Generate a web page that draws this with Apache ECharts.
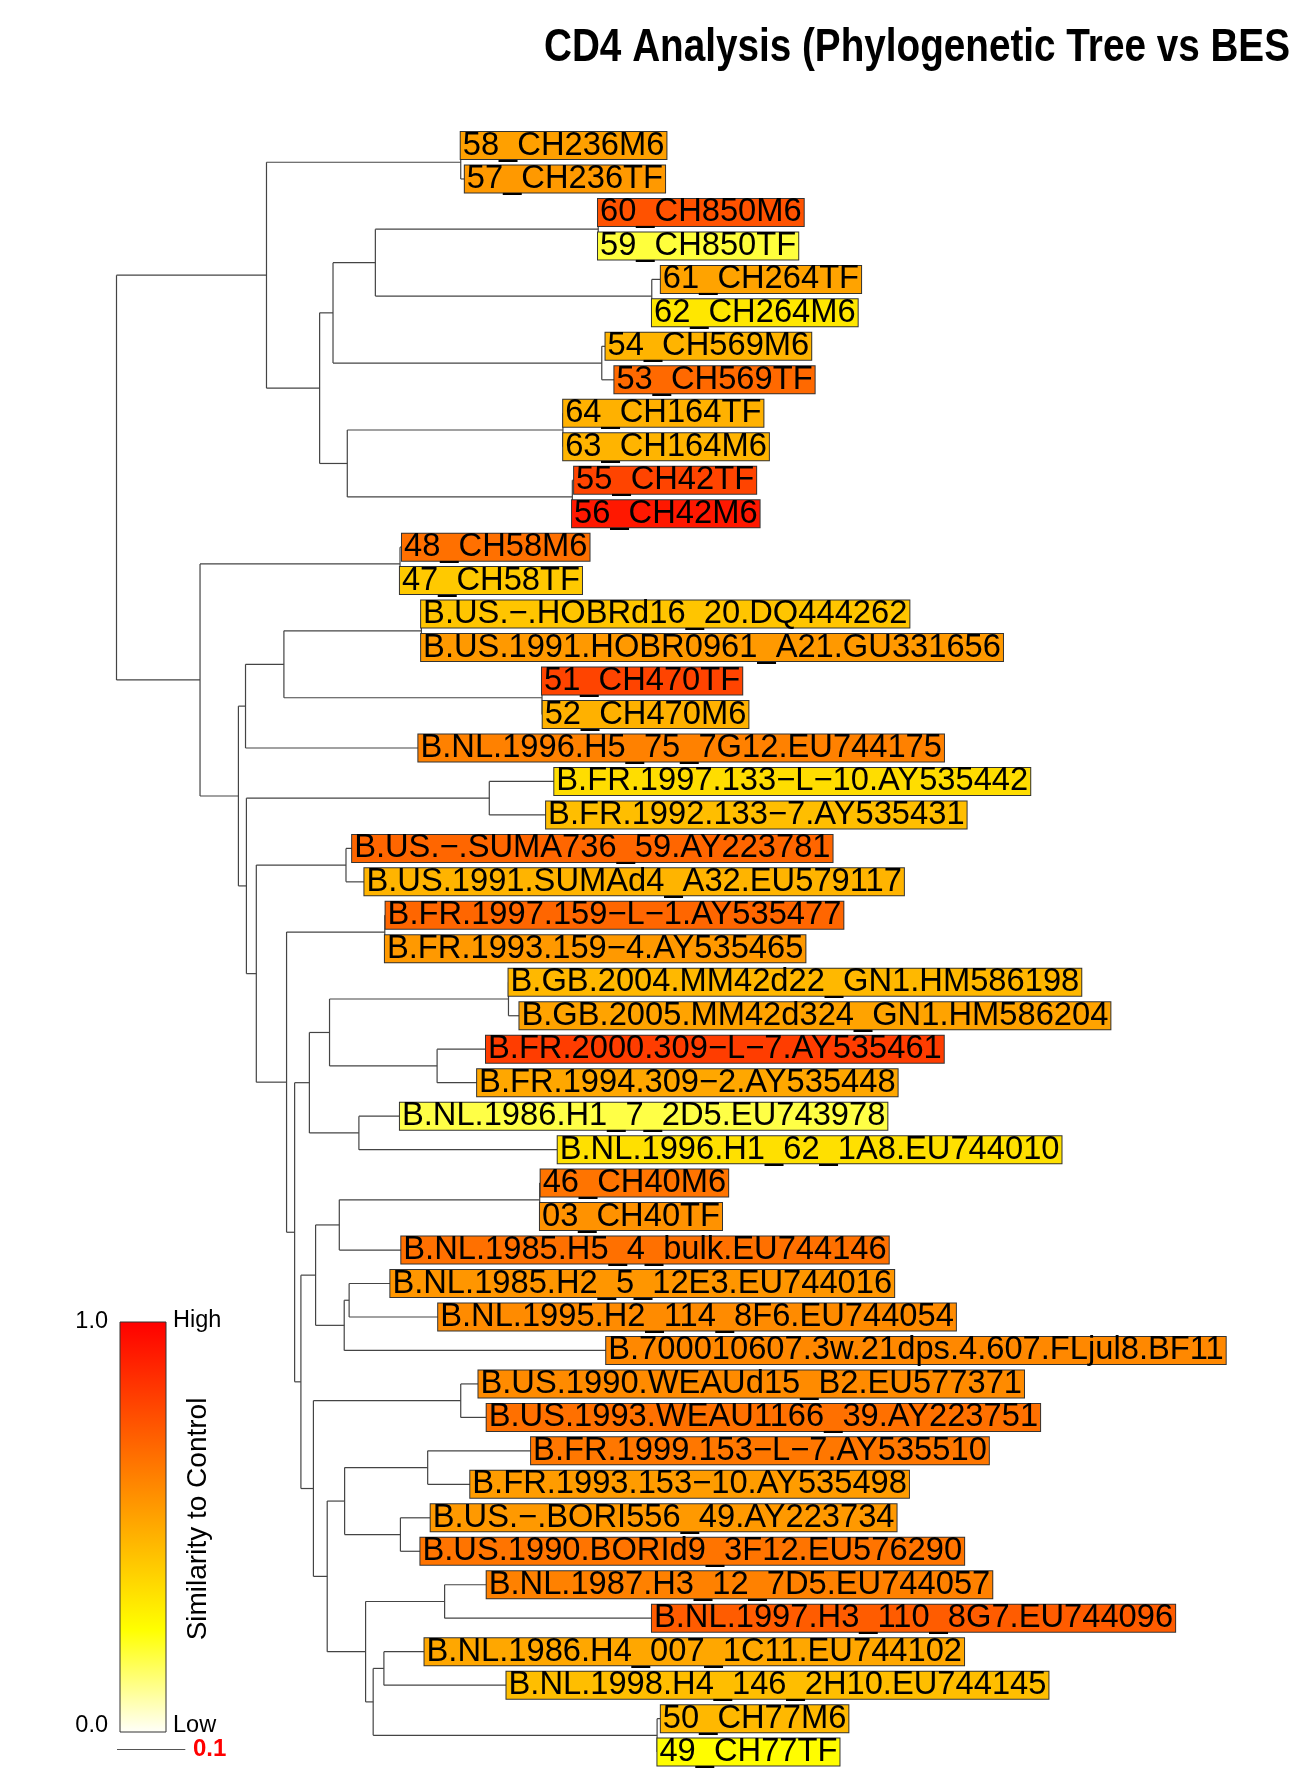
<!DOCTYPE html>
<html><head><meta charset="utf-8">
<script src="https://cdn.jsdelivr.net/npm/echarts@6/dist/echarts.min.js"></script>
<style>html,body{margin:0;padding:0;background:#fff;overflow:hidden}#c{width:1292px;height:1771px}</style>
</head><body><div id="c"></div>
<script>
const titleText = 'CD4 Analysis (Phylogenetic Tree vs BES';

// Leaves, top to bottom
const leafNames = [
 '58_CH236M6','57_CH236TF','60_CH850M6','59_CH850TF','61_CH264TF','62_CH264M6',
 '54_CH569M6','53_CH569TF','64_CH164TF','63_CH164M6','55_CH42TF','56_CH42M6',
 '48_CH58M6','47_CH58TF','B.US.−.HOBRd16_20.DQ444262','B.US.1991.HOBR0961_A21.GU331656',
 '51_CH470TF','52_CH470M6','B.NL.1996.H5_75_7G12.EU744175','B.FR.1997.133−L−10.AY535442',
 'B.FR.1992.133−7.AY535431','B.US.−.SUMA736_59.AY223781','B.US.1991.SUMAd4_A32.EU579117',
 'B.FR.1997.159−L−1.AY535477','B.FR.1993.159−4.AY535465','B.GB.2004.MM42d22_GN1.HM586198',
 'B.GB.2005.MM42d324_GN1.HM586204','B.FR.2000.309−L−7.AY535461','B.FR.1994.309−2.AY535448',
 'B.NL.1986.H1_7_2D5.EU743978','B.NL.1996.H1_62_1A8.EU744010','46_CH40M6','03_CH40TF',
 'B.NL.1985.H5_4_bulk.EU744146','B.NL.1985.H2_5_12E3.EU744016','B.NL.1995.H2_114_8F6.EU744054',
 'B.700010607.3w.21dps.4.607.FLjul8.BF11','B.US.1990.WEAUd15_B2.EU577371','B.US.1993.WEAU1166_39.AY223751',
 'B.FR.1999.153−L−7.AY535510','B.FR.1993.153−10.AY535498','B.US.−.BORI556_49.AY223734',
 'B.US.1990.BORId9_3F12.EU576290','B.NL.1987.H3_12_7D5.EU744057','B.NL.1997.H3_110_8G7.EU744096',
 'B.NL.1986.H4_007_1C11.EU744102','B.NL.1998.H4_146_2H10.EU744145','50_CH77M6','49_CH77TF'
];
const leafParents = [
 'n5857','n5857','n6059','n6059','n6162','n6162','n5453','n5453','n6463','n6463','n5556','n5556',
 'n4847','n4847','nHOBR','nHOBR','n5152','n5152','H','K','K','nSUMA','nSUMA','n159','n159',
 'nGB','nGB','n309','n309','Q','Q','n4603','n4603','T','V','V','U','nWEAU','nWEAU',
 'n153','n153','nBORI','nBORI','nH3','nH3','nH4','nH4','nCH77','nCH77'
];
const leafDepths = [
 0.504,0.510,0.705,0.705,0.797,0.784,0.716,0.729,0.654,0.654,0.670,0.667,
 0.418,0.415,0.446,0.446,0.623,0.624,0.442,0.641,0.629,0.345,0.363,0.394,0.393,
 0.574,0.590,0.541,0.528,0.415,0.646,0.621,0.620,0.417,0.401,0.471,0.717,0.530,0.542,
 0.607,0.518,0.460,0.445,0.542,0.784,0.451,0.571,0.797,0.792
];
const leafSimilarity = [
 0.53,0.55,0.76,0.19,0.52,0.32,0.47,0.69,0.48,0.47,0.80,0.93,
 0.67,0.41,0.42,0.55,0.80,0.48,0.62,0.35,0.44,0.70,0.47,0.70,0.55,
 0.46,0.52,0.82,0.51,0.18,0.34,0.66,0.57,0.67,0.56,0.59,0.60,0.59,0.67,
 0.65,0.54,0.55,0.66,0.62,0.73,0.51,0.44,0.46,0.255
];

// Internal nodes: id, parent, depth from root
const nodeIds     = ['ROOT','A','n5857','B','C','D','n6059','n6162','n5453','E','n6463','n5556',
 'F','n4847','G','H','I','nHOBR','n5152','J','K','L','nSUMA','M','n159','N','O','P','nGB','n309','Q',
 'R2','S','T','n4603','U','V','W','nWEAU','X','Y','n153','nBORI','Z','nH3','AA','nH4','nCH77'];
const nodeParents = [null,'ROOT','A','A','B','C','D','D','C','B','E','E',
 'ROOT','F','F','G','H','I','I','G','J','J','L','L','M','M','N','O','P','P','O',
 'N','R2','S','T','S','U','R2','W','W','X','Y','Y','X','Z','Z','AA','AA'];
const nodeDepths  = [0,0.2196,0.504,0.2974,0.317,0.379,0.7053,0.7837,0.7105,0.3379,0.6536,0.6674,
 0.1223,0.4151,0.1785,0.1889,0.2451,0.4464,0.623,0.1902,0.5458,0.2047,0.336,0.249,0.3928,0.2608,0.2824,0.3119,0.5739,0.4694,0.3549,
 0.270,0.2915,0.3262,0.6196,0.3334,0.3406,0.2883,0.504,0.3085,0.334,0.4556,0.4157,0.3647,0.4804,0.3758,0.3915,0.7915];

const colorStops = ['#FFFFFA','#FFFF00','#FFAA00','#FF5500','#FF0000'];
const legendTicks = ['1.0','0.0'];
const legendEnds = ['High','Low'];
const legendTitle = 'Similarity to Control';
const scaleBarValue = 0.1;

// ---- build tree geometry (in data units) ----
const depthOf = {}, children = {};
nodeIds.forEach((id,i)=>{depthOf[id]=nodeDepths[i]; children[id]=[];});
nodeIds.forEach((id,i)=>{ if(nodeParents[i]) children[nodeParents[i]].push({node:id}); });
leafParents.forEach((p,i)=>children[p].push({leaf:i}));
const yOf = {};
function nodeY(id){
  if (yOf[id]!==undefined) return yOf[id];
  const ys = children[id].map(c=> c.leaf!==undefined ? c.leaf : nodeY(c.node));
  yOf[id] = ys.reduce((a,b)=>a+b,0)/ys.length;
  return yOf[id];
}
nodeIds.forEach(nodeY);
const segs = [];
nodeIds.forEach((id,i)=>{
  const ys = children[id].map(c=> c.leaf!==undefined ? c.leaf : yOf[c.node]);
  segs.push([depthOf[id], Math.min(...ys), depthOf[id], Math.max(...ys)]);
  if (nodeParents[i]) segs.push([depthOf[nodeParents[i]], yOf[id], depthOf[id], yOf[id]]);
});
leafParents.forEach((p,i)=>segs.push([depthOf[p], i, leafDepths[i], i]));
const leafData = leafNames.map((n,i)=>[leafDepths[i], i, leafSimilarity[i]]);

const chart = echarts.init(document.getElementById('c'), null, {renderer:'canvas'});
const LEG = {x:120, y:1322, w:46, h:410};
const option = {
  backgroundColor:'#fff',
  animation:false,
  grid:{left:116.5, top:145.5, width:1024.5, height:1606.6},
  xAxis:{type:'value', min:0, max:1.5, show:false},
  yAxis:{type:'value', min:0, max:48, inverse:true, show:false},
  visualMap:{show:false, type:'continuous', min:0, max:1, dimension:2, seriesIndex:1,
    inRange:{color:colorStops}},
  series:[
    {type:'custom', data:segs, encode:{x:[0,2], y:[1,3]}, z:2, silent:true,
     renderItem:(params, api)=>{
       const a = api.coord([api.value(0), api.value(1)]);
       const b = api.coord([api.value(2), api.value(3)]);
       return {type:'line', shape:{x1:a[0],y1:a[1],x2:b[0],y2:b[1]},
         style:{stroke:'#444', lineWidth:1.2}};
     }},
    {type:'custom', data:leafData, encode:{x:0, y:1}, z:5, silent:true,
     renderItem:(params, api)=>{
       const p = api.coord([api.value(0), api.value(1)]);
       return {type:'text', x:p[0], y:p[1],
         style:{text:leafNames[params.dataIndex], font:'32.7px "Liberation Sans", Arial, sans-serif',
           fill:'#000', align:'left', verticalAlign:'middle',
           backgroundColor:api.visual('color'), borderColor:'#333', borderWidth:1,
           padding:[1,2,0,2], lineHeight:26}};
     }}
  ],
  graphic:[
    {type:'text', x:544, y:48, scaleX:0.823, style:{text:titleText, font:'bold 47px "Liberation Sans", Arial, sans-serif', fill:'#000', align:'left', verticalAlign:'middle'}},
    {type:'rect', shape:{x:LEG.x, y:LEG.y, width:LEG.w, height:LEG.h},
     style:{fill:new echarts.graphic.LinearGradient(0,0,0,1, colorStops.slice().reverse().map((c,i)=>({offset:i/(colorStops.length-1), color:c}))),
       stroke:'#333', lineWidth:1}},
    {type:'text', x:108, y:1322, style:{text:legendTicks[0], font:'23.5px "Liberation Sans", Arial, sans-serif', fill:'#000', align:'right', verticalAlign:'middle'}},
    {type:'text', x:108, y:1726, style:{text:legendTicks[1], font:'23.5px "Liberation Sans", Arial, sans-serif', fill:'#000', align:'right', verticalAlign:'middle'}},
    {type:'text', x:173, y:1321, style:{text:legendEnds[0], font:'23.5px "Liberation Sans", Arial, sans-serif', fill:'#000', align:'left', verticalAlign:'middle'}},
    {type:'text', x:173, y:1726, style:{text:legendEnds[1], font:'23.5px "Liberation Sans", Arial, sans-serif', fill:'#000', align:'left', verticalAlign:'middle'}},
    {type:'text', x:198, y:1519, rotation:Math.PI/2, style:{text:legendTitle, font:'28px "Liberation Sans", Arial, sans-serif', fill:'#000', align:'center', verticalAlign:'middle'}}
  ]
};
chart.setOption(option);
// scale bar, sized with the x scale
const p0 = chart.convertToPixel({gridIndex:0}, [0, 0]);
const p1 = chart.convertToPixel({gridIndex:0}, [scaleBarValue, 0]);
const barLen = p1[0]-p0[0];
chart.setOption({graphic:[
  {type:'line', id:'sb', shape:{x1:117, y1:1749.5, x2:117+barLen, y2:1749.5}, style:{stroke:'#555', lineWidth:1.2}},
  {type:'text', id:'sbt', x:193, y:1749, style:{text:String(scaleBarValue), font:'bold 24px "Liberation Sans", Arial, sans-serif', fill:'#FF0000', align:'left', verticalAlign:'middle'}}
]});
</script></body></html>
